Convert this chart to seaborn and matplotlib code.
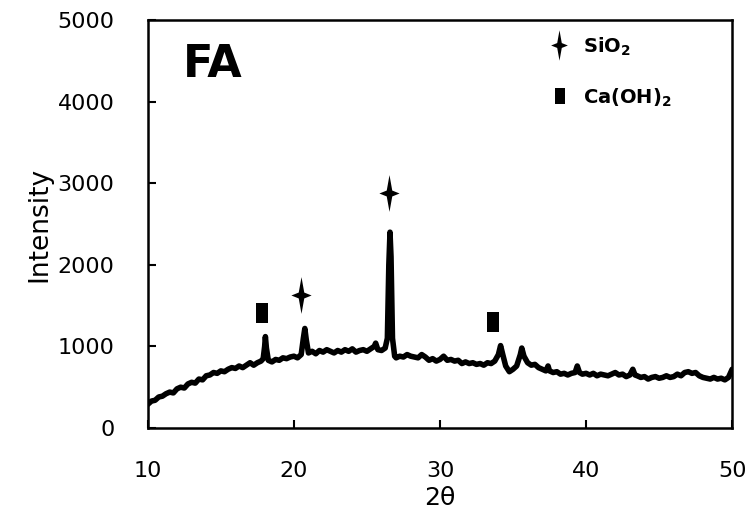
import seaborn as sns
import matplotlib.pyplot as plt
from matplotlib.path import Path

# XRD pattern of FA
two_theta = [10.00, 10.25, 10.50, 10.75, 11.00, 11.25, 11.50, 11.75, 12.00, 12.25,
             12.50, 12.75, 13.00, 13.25, 13.50, 13.75, 14.00, 14.25, 14.50, 14.75,
             15.00, 15.25, 15.50, 15.75, 16.00, 16.25, 16.50, 16.75, 17.00, 17.25,
             17.50, 17.75, 17.90, 18.00, 18.05, 18.12, 18.25, 18.50, 18.75, 19.00,
             19.25, 19.50, 19.75, 20.00, 20.25, 20.50, 20.65, 20.75, 20.85, 21.00,
             21.25, 21.50, 21.75, 22.00, 22.25, 22.50, 22.75, 23.00, 23.25, 23.50,
             23.75, 24.00, 24.25, 24.50, 24.75, 25.00, 25.25, 25.50, 25.60, 25.75,
             26.00, 26.25, 26.40, 26.50, 26.58, 26.65, 26.75, 26.90, 27.00, 27.25,
             27.50, 27.75, 28.00, 28.25, 28.50, 28.75, 29.00, 29.25, 29.50, 29.75,
             30.00, 30.25, 30.50, 30.75, 31.00, 31.25, 31.50, 31.75, 32.00, 32.25,
             32.50, 32.75, 33.00, 33.25, 33.50, 33.75, 34.00, 34.15, 34.30, 34.50,
             34.75, 35.00, 35.25, 35.50, 35.60, 35.75, 36.00, 36.25, 36.50, 36.75,
             37.00, 37.25, 37.40, 37.50, 37.75, 38.00, 38.25, 38.50, 38.75, 39.00,
             39.25, 39.40, 39.55, 39.75, 40.00, 40.25, 40.50, 40.75, 41.00, 41.25,
             41.50, 41.75, 42.00, 42.25, 42.50, 42.75, 43.00, 43.20, 43.35, 43.50,
             43.75, 44.00, 44.25, 44.50, 44.75, 45.00, 45.25, 45.50, 45.75, 46.00,
             46.25, 46.50, 46.75, 47.00, 47.25, 47.50, 47.75, 48.00, 48.25, 48.50,
             48.75, 49.00, 49.25, 49.50, 49.75, 50.00]
intensity = [290, 330, 340, 380, 390, 420, 440, 430, 480, 500,
             490, 540, 560, 550, 600, 590, 640, 650, 680, 670,
             700, 690, 720, 740, 730, 760, 740, 770, 800, 770,
             800, 820, 850, 1000, 1120, 980, 830, 810, 840, 830,
             860, 850, 870, 880, 860, 900, 1100, 1220, 1080, 920,
             940, 910, 950, 930, 960, 940, 920, 950, 930, 960,
             940, 970, 930, 950, 960, 940, 970, 1000, 1040, 960,
             950, 980, 1100, 2000, 2400, 2100, 1100, 880, 860, 880,
             870, 900, 880, 870, 860, 900, 870, 830, 850, 820,
             840, 880, 830, 840, 820, 830, 790, 810, 790, 800,
             780, 790, 770, 800, 790, 820, 900, 1010, 900, 760,
             690, 720, 760, 900, 980, 880, 800, 770, 780, 740,
             720, 700, 760, 700, 680, 690, 660, 670, 650, 670,
             680, 760, 680, 660, 670, 650, 670, 640, 660, 650,
             640, 660, 680, 650, 660, 630, 650, 720, 650, 640,
             620, 630, 600, 620, 630, 610, 620, 640, 620, 630,
             660, 640, 680, 690, 670, 680, 640, 620, 610, 600,
             620, 600, 610, 590, 620, 720]

# phase markers
sio2_x = [20.5, 26.5]
sio2_y = [1630, 2880]
caoh2_x = [17.8, 33.6]
caoh2_y = [1410, 1300]

sns.set_style('white')
plt.rcParams['font.family'] = ['DejaVu Sans']
plt.rcParams['text.color'] = 'black'
plt.rcParams['axes.labelcolor'] = 'black'
plt.rcParams['xtick.color'] = 'black'
plt.rcParams['ytick.color'] = 'black'

star = Path([(0, 1), (0.15, 0.16), (0.55, 0), (0.15, -0.16), (0, -1),
             (-0.15, -0.16), (-0.55, 0), (-0.15, 0.16), (0, 1)],
            [Path.MOVETO] + [Path.LINETO] * 7 + [Path.CLOSEPOLY])
block = Path([(-0.6, -1), (0.6, -1), (0.6, 1), (-0.6, 1), (-0.6, -1)],
             [Path.MOVETO] + [Path.LINETO] * 3 + [Path.CLOSEPOLY])

fig = plt.figure(figsize=(7.54, 5.21), dpi=100)
ax = fig.add_axes([0.196, 0.1785, 0.775, 0.783])

sns.lineplot(x=two_theta, y=intensity, color='black', linewidth=4, ax=ax)
ax.scatter(sio2_x, sio2_y, marker=star, s=700, color='black', linewidths=0)
ax.scatter(caoh2_x, caoh2_y, marker=block, s=210, color='black', linewidths=0)

# legend drawn by hand
ax.scatter([0.703], [0.94], marker=star, s=480, color='black', linewidths=0,
           transform=ax.transAxes)
ax.scatter([0.705], [0.815], marker=block, s=120, color='black', linewidths=0,
           transform=ax.transAxes)
ax.text(0.745, 0.935, 'SiO$_\\mathbf{2}$', transform=ax.transAxes, fontsize=14,
        fontweight='bold', va='center')
ax.text(0.745, 0.81, 'Ca(OH)$_\\mathbf{2}$', transform=ax.transAxes, fontsize=14,
        fontweight='bold', va='center')
ax.text(0.06, 0.89, 'FA', transform=ax.transAxes, fontsize=32,
        fontweight='bold', va='center')

ax.set_xlim(10, 50)
ax.set_ylim(0, 5000)
ax.set_xticks([10, 20, 30, 40, 50])
ax.set_yticks([0, 1000, 2000, 3000, 4000, 5000])
ax.tick_params(direction='in', length=6, width=1.5, labelsize=16,
               bottom=True, left=True)
ax.tick_params(axis='x', pad=24)
ax.tick_params(axis='y', pad=24)
for s in ax.spines.values():
    s.set_linewidth(1.8)
    s.set_color('black')
ax.set_xlabel('2θ', fontsize=18, labelpad=3)
ax.set_ylabel('Intensity', fontsize=19, labelpad=4)

fig.savefig('out.png', dpi=100)
